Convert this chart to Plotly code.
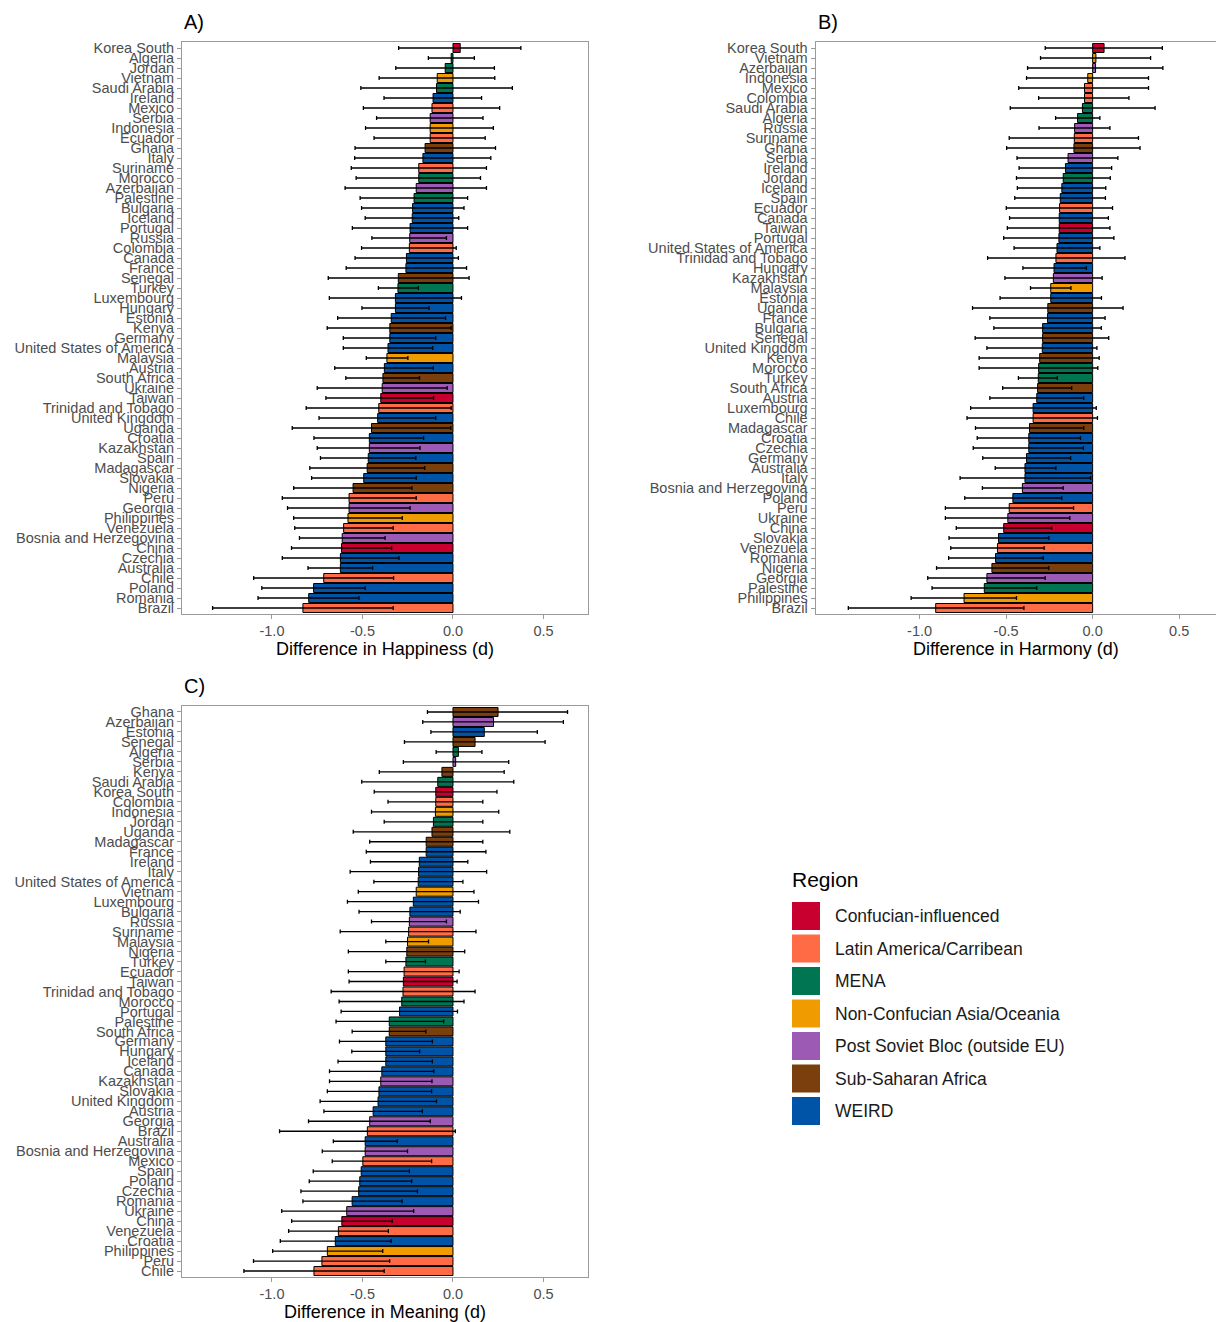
import plotly.graph_objects as go

# ---------------- data ----------------
region_names = ["Confucian-influenced", "Latin America/Carribean", "MENA",
                "Non-Confucian Asia/Oceania", "Post Soviet Bloc (outside EU)",
                "Sub-Saharan Africa", "WEIRD"]
region_colors = ["#C8002F", "#FF6B45", "#007552", "#F09C00", "#9C5AB5", "#7A3F0C", "#0054A8"]

confucian = ["Korea South", "Taiwan", "China"]
latin = ["Mexico", "Ecuador", "Suriname", "Colombia", "Trinidad and Tobago", "Peru",
         "Venezuela", "Chile", "Brazil"]
mena = ["Algeria", "Jordan", "Saudi Arabia", "Morocco", "Palestine", "Turkey"]
non_confucian = ["Vietnam", "Indonesia", "Malaysia", "Philippines"]
post_soviet = ["Serbia", "Azerbaijan", "Russia", "Ukraine", "Kazakhstan", "Georgia",
               "Bosnia and Herzegovina"]
sub_saharan = ["Ghana", "Senegal", "Kenya", "South Africa", "Uganda", "Madagascar", "Nigeria"]
weird = ["Ireland", "Italy", "Bulgaria", "Iceland", "Portugal", "Canada", "France",
         "Luxembourg", "Hungary", "Estonia", "Germany", "United States of America", "Austria",
         "United Kingdom", "Croatia", "Spain", "Slovakia", "Czechia", "Australia", "Poland",
         "Romania"]

countries_a = ["Korea South", "Algeria", "Jordan", "Vietnam", "Saudi Arabia", "Ireland", "Mexico",
               "Serbia", "Indonesia", "Ecuador", "Ghana", "Italy", "Suriname", "Morocco",
               "Azerbaijan", "Palestine", "Bulgaria", "Iceland", "Portugal", "Russia", "Colombia",
               "Canada", "France", "Senegal", "Turkey", "Luxembourg", "Hungary", "Estonia", "Kenya",
               "Germany", "United States of America", "Malaysia", "Austria", "South Africa",
               "Ukraine", "Taiwan", "Trinidad and Tobago", "United Kingdom", "Uganda", "Croatia",
               "Kazakhstan", "Spain", "Madagascar", "Slovakia", "Nigeria", "Peru", "Georgia",
               "Philippines", "Venezuela", "Bosnia and Herzegovina", "China", "Czechia",
               "Australia", "Chile", "Poland", "Romania", "Brazil"]
happiness = [0.04, -0.01, -0.043, -0.087, -0.091, -0.11, -0.116, -0.126, -0.126, -0.126,
             -0.154, -0.166, -0.189, -0.189, -0.203, -0.215, -0.223, -0.225, -0.237, -0.239,
             -0.241, -0.257, -0.26, -0.302, -0.304, -0.318, -0.318, -0.341, -0.349, -0.349,
             -0.359, -0.365, -0.379, -0.387, -0.391, -0.399, -0.41, -0.416, -0.45, -0.462,
             -0.462, -0.468, -0.474, -0.493, -0.552, -0.574, -0.574, -0.58, -0.604, -0.612,
             -0.616, -0.622, -0.622, -0.714, -0.77, -0.797, -0.829]
happiness_lo = [-0.30, -0.136, -0.316, -0.408, -0.509, -0.381, -0.495, -0.422, -0.483, -0.436,
                -0.541, -0.543, -0.562, -0.535, -0.596, -0.513, -0.505, -0.485, -0.556, -0.448,
                -0.505, -0.541, -0.59, -0.689, -0.412, -0.683, -0.503, -0.637, -0.695, -0.606,
                -0.606, -0.479, -0.653, -0.592, -0.75, -0.702, -0.811, -0.74, -0.888, -0.768,
                -0.75, -0.732, -0.791, -0.781, -0.88, -0.943, -0.914, -0.88, -0.874, -0.848,
                -0.892, -0.943, -0.801, -1.101, -1.056, -1.077, -1.328]
happiness_hi = [0.375, 0.118, 0.229, 0.231, 0.328, 0.158, 0.258, 0.166, 0.223, 0.178,
                0.235, 0.209, 0.185, 0.152, 0.185, 0.081, 0.061, 0.032, 0.081, -0.036,
                0.018, 0.030, 0.075, 0.089, -0.191, 0.047, -0.132, -0.041, -0.01, -0.095,
                -0.112, -0.249, -0.109, -0.185, -0.032, -0.107, -0.01, -0.095, -0.012, -0.162,
                -0.182, -0.205, -0.156, -0.203, -0.227, -0.203, -0.237, -0.28, -0.33, -0.375,
                -0.339, -0.298, -0.444, -0.328, -0.485, -0.519, -0.33]

countries_b = ["Korea South", "Vietnam", "Azerbaijan", "Indonesia", "Mexico", "Colombia",
               "Saudi Arabia", "Algeria", "Russia", "Suriname", "Ghana", "Serbia", "Ireland",
               "Jordan", "Iceland", "Spain", "Ecuador", "Canada", "Taiwan", "Portugal",
               "United States of America", "Trinidad and Tobago", "Hungary", "Kazakhstan",
               "Malaysia", "Estonia", "Uganda", "France", "Bulgaria", "Senegal", "United Kingdom",
               "Kenya", "Morocco", "Turkey", "South Africa", "Austria", "Luxembourg", "Chile",
               "Madagascar", "Croatia", "Czechia", "Germany", "Australia", "Italy",
               "Bosnia and Herzegovina", "Poland", "Peru", "Ukraine", "China", "Slovakia",
               "Venezuela", "Romania", "Nigeria", "Georgia", "Palestine", "Philippines", "Brazil"]
harmony = [0.066, 0.019, 0.017, -0.028, -0.047, -0.047, -0.059, -0.087, -0.104, -0.106,
           -0.108, -0.142, -0.157, -0.17, -0.178, -0.187, -0.191, -0.193, -0.193, -0.195,
           -0.206, -0.212, -0.223, -0.227, -0.242, -0.242, -0.259, -0.261, -0.289, -0.289,
           -0.291, -0.306, -0.312, -0.314, -0.318, -0.323, -0.344, -0.344, -0.365, -0.369,
           -0.369, -0.382, -0.391, -0.391, -0.406, -0.461, -0.482, -0.49, -0.514, -0.544,
           -0.55, -0.561, -0.582, -0.611, -0.626, -0.743, -0.907]
harmony_lo = [-0.274, -0.301, -0.376, -0.382, -0.427, -0.312, -0.476, -0.214, -0.31, -0.482,
              -0.497, -0.437, -0.425, -0.44, -0.435, -0.45, -0.499, -0.48, -0.493, -0.514,
              -0.454, -0.607, -0.403, -0.507, -0.359, -0.535, -0.694, -0.594, -0.571, -0.679,
              -0.611, -0.656, -0.656, -0.429, -0.52, -0.594, -0.705, -0.726, -0.677, -0.667,
              -0.69, -0.635, -0.563, -0.766, -0.637, -0.739, -0.851, -0.851, -0.788, -0.83,
              -0.82, -0.832, -0.902, -0.953, -0.928, -1.049, -1.412]
harmony_hi = [0.403, 0.335, 0.406, 0.323, 0.323, 0.21, 0.361, 0.042, 0.1, 0.265,
              0.274, 0.146, 0.11, 0.102, 0.076, 0.074, 0.115, 0.091, 0.1, 0.123,
              0.042, 0.187, -0.036, 0.055, -0.125, 0.051, 0.176, 0.072, 0.05, 0.093,
              0.025, 0.038, 0.03, -0.204, -0.121, -0.051, 0.021, 0.028, -0.051, -0.07,
              -0.053, -0.127, -0.212, -0.011, -0.17, -0.178, -0.11, -0.132, -0.236, -0.253,
              -0.28, -0.285, -0.253, -0.274, -0.323, -0.44, -0.397]

countries_c = ["Ghana", "Azerbaijan", "Estonia", "Senegal", "Algeria", "Serbia", "Kenya",
               "Saudi Arabia", "Korea South", "Colombia", "Indonesia", "Jordan", "Uganda",
               "Madagascar", "France", "Ireland", "Italy", "United States of America", "Vietnam",
               "Luxembourg", "Bulgaria", "Russia", "Suriname", "Malaysia", "Nigeria", "Turkey",
               "Ecuador", "Taiwan", "Trinidad and Tobago", "Morocco", "Portugal", "Palestine",
               "South Africa", "Germany", "Hungary", "Iceland", "Canada", "Kazakhstan", "Slovakia",
               "United Kingdom", "Austria", "Georgia", "Brazil", "Australia",
               "Bosnia and Herzegovina", "Mexico", "Spain", "Poland", "Czechia", "Romania",
               "Ukraine", "China", "Venezuela", "Croatia", "Philippines", "Peru", "Chile"]
meaning = [0.249, 0.224, 0.173, 0.122, 0.03, 0.015, -0.061, -0.084, -0.095, -0.095,
           -0.097, -0.108, -0.116, -0.148, -0.148, -0.186, -0.19, -0.192, -0.203, -0.219,
           -0.238, -0.241, -0.245, -0.251, -0.255, -0.26, -0.27, -0.274, -0.276, -0.283,
           -0.295, -0.352, -0.352, -0.371, -0.371, -0.371, -0.393, -0.399, -0.409, -0.414,
           -0.441, -0.46, -0.473, -0.485, -0.485, -0.498, -0.507, -0.515, -0.521, -0.557,
           -0.587, -0.614, -0.633, -0.65, -0.694, -0.724, -0.768]
meaning_lo = [-0.141, -0.167, -0.122, -0.268, -0.093, -0.274, -0.407, -0.504, -0.435, -0.359,
              -0.45, -0.38, -0.551, -0.46, -0.479, -0.456, -0.568, -0.437, -0.523, -0.583,
              -0.519, -0.45, -0.623, -0.371, -0.578, -0.371, -0.578, -0.574, -0.673, -0.629,
              -0.618, -0.646, -0.557, -0.627, -0.559, -0.635, -0.682, -0.682, -0.694, -0.734,
              -0.713, -0.798, -0.958, -0.661, -0.722, -0.667, -0.772, -0.794, -0.84, -0.829,
              -0.946, -0.891, -0.908, -0.954, -0.996, -1.102, -1.155]
meaning_hi = [0.633, 0.61, 0.466, 0.509, 0.16, 0.308, 0.283, 0.336, 0.243, 0.165,
              0.253, 0.165, 0.314, 0.165, 0.182, 0.082, 0.186, 0.055, 0.116, 0.141,
              0.04, -0.036, 0.127, -0.135, 0.065, -0.152, 0.034, 0.023, 0.122, 0.061,
              0.025, -0.051, -0.15, -0.114, -0.184, -0.114, -0.106, -0.116, -0.118, -0.091,
              -0.169, -0.125, 0.013, -0.308, -0.251, -0.118, -0.241, -0.228, -0.196, -0.281,
              -0.217, -0.336, -0.357, -0.342, -0.388, -0.35, -0.38]

x_ticks = [-1.0, -0.5, 0.0, 0.5]
x_tick_labels = ["-1.0", "-0.5", "0.0", "0.5"]

# ---------------- figure ----------------
W, H = 1216, 1322
FONT = "Liberation Sans, Arial, Helvetica, sans-serif"
TICK_GRAY = "#4D4D4D"
BORDER = "#9A9A9A"

region_members = [confucian, latin, mena, non_confucian, post_soviet, sub_saharan, weird]
country_color = {}
for members, col in zip(region_members, region_colors):
    for c in members:
        country_color[c] = col


def fx(p):
    return p / W


def fy(p):
    return 1 - p / H


panels = [
    ("A)", countries_a, happiness, happiness_lo, happiness_hi, "Difference in Happiness (d)",
     (182, 588), (42, 614), [-1.497, 0.746]),
    ("B)", countries_b, harmony, harmony_lo, harmony_hi, "Difference in Harmony (d)",
     (815.6, 1216), (42, 614), [-1.601, 0.713]),
    ("C)", countries_c, meaning, meaning_lo, meaning_hi, "Difference in Meaning (d)",
     (182, 588), (706, 1277), [-1.497, 0.746]),
]

fig = go.Figure()
annotations = []
shapes = []
for i, (tag, countries, vals, lo, hi, title, (x0, x1), (y0, y1), xr) in enumerate(panels):
    sfx = "" if i == 0 else str(i + 1)
    fig.add_trace(go.Bar(
        x=vals, y=countries, orientation="h",
        xaxis="x" + sfx, yaxis="y" + sfx,
        width=0.9,
        marker=dict(color=[country_color[c] for c in countries],
                    line=dict(color="black", width=1)),
        error_x=dict(type="data", symmetric=False,
                     array=[h - v for h, v in zip(hi, vals)],
                     arrayminus=[v - l for v, l in zip(vals, lo)],
                     color="black", thickness=1.3, width=2),
        showlegend=False,
        hovertemplate="%{y}: %{x:.2f}<extra></extra>",
    ))
    n = len(countries)
    fig.layout["xaxis" + sfx] = dict(
        domain=[fx(x0), fx(x1)], anchor="y" + sfx, range=xr,
        tickmode="array", tickvals=x_ticks, ticktext=x_tick_labels,
        ticks="outside", ticklen=4, tickcolor=BORDER, tickwidth=1,
        tickfont=dict(size=14.5, color=TICK_GRAY, family=FONT),
        showline=True, linecolor=BORDER, linewidth=1, mirror=True,
        showgrid=False, zeroline=False, automargin=False,
        title=dict(text=title, font=dict(size=18, color="black", family=FONT), standoff=3),
    )
    fig.layout["yaxis" + sfx] = dict(
        domain=[fy(y1), fy(y0)], anchor="x" + sfx,
        type="category", categoryorder="array", categoryarray=countries,
        range=[n - 0.4, -0.6],
        tickmode="array", tickvals=countries, ticktext=countries,
        ticks="outside", ticklen=4, tickcolor=BORDER, tickwidth=1,
        tickfont=dict(size=14.5, color=TICK_GRAY, family=FONT),
        showline=True, linecolor=BORDER, linewidth=1, mirror=True,
        showgrid=False, zeroline=False, automargin=False,
    )
    annotations.append(dict(
        text=tag, xref="paper", yref="paper", x=fx(x0), y=fy(y0 - 20),
        xanchor="left", yanchor="middle", showarrow=False,
        font=dict(size=20, color="black", family=FONT)))

# Legend (drawn as keys + labels)
annotations.append(dict(
    text="Region", xref="paper", yref="paper", x=fx(790), y=fy(880),
    xanchor="left", yanchor="middle", showarrow=False,
    font=dict(size=21, color="black", family=FONT)))
for k, (name, col) in enumerate(zip(region_names, region_colors)):
    cy = 916 + 32.5 * k
    shapes.append(dict(type="rect", xref="paper", yref="paper",
                       x0=fx(791.5), x1=fx(820.5), y0=fy(cy + 14.5), y1=fy(cy - 14.5),
                       fillcolor=col, line=dict(color="white", width=1)))
    annotations.append(dict(
        text=name, xref="paper", yref="paper", x=fx(833), y=fy(cy),
        xanchor="left", yanchor="middle", showarrow=False,
        font=dict(size=17.5, color="#1A1A1A", family=FONT)))

fig.update_layout(
    width=W, height=H,
    margin=dict(l=0, r=0, t=0, b=0),
    paper_bgcolor="white", plot_bgcolor="white",
    barmode="overlay",
    font=dict(family=FONT),
    annotations=annotations, shapes=shapes,
    showlegend=False,
)

fig.write_html("out.html",
               config={"displayModeBar": False},
               post_script="document.body.style.margin='0px';document.body.style.overflow='hidden';")
